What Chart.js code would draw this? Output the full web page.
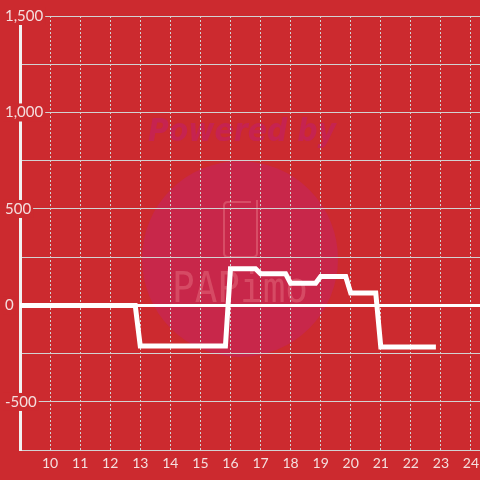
<!DOCTYPE html>
<html>
<head>
<meta charset="utf-8">
<script src="https://cdn.jsdelivr.net/npm/chart.js@4/dist/chart.umd.min.js"></script>
<style>
  html, body { margin: 0; padding: 0; background: #cc2a2f; }
  #c { display: block; }
</style>
</head>
<body>
<canvas id="c" width="480" height="480"></canvas>
<script>
// Time of day (hours) and values
const times  = [9.0, 12.833, 13.0, 15.833, 16.0, 16.833, 17.0, 17.833, 18.0, 18.833, 19.0, 19.833, 20.0, 20.833, 21.0, 22.833];
const values = [0,   0,      -210, -210,   190,  190,    165,  165,    115,  115,    150,  150,    65,   65,     -215, -215];
const xTicks = [10, 11, 12, 13, 14, 15, 16, 17, 18, 19, 20, 21, 22, 23, 24];
const yLabels = [-500, 0, 500, 1000, 1500];

const BG = '#cc2a2f';
const GRID = '#d2d2d2';
const TXT = '#f4dede';

const watermark = {
  id: 'watermark',
  beforeDraw(chart) {
    const ctx = chart.ctx;
    ctx.save();
    ctx.fillStyle = BG;
    ctx.fillRect(0, 0, chart.width, chart.height);
    // circle
    ctx.fillStyle = '#c8274a';
    ctx.beginPath();
    ctx.arc(240, 259, 98, 0, Math.PI * 2);
    ctx.fill();
    // Powered by
    ctx.fillStyle = '#c62350';
    ctx.font = 'italic bold 32px "DejaVu Sans"';
    ctx.textAlign = 'center';
    ctx.textBaseline = 'middle';
    ctx.fillText('Powered by', 242, 133, 188);
    // phone icon
    ctx.strokeStyle = 'rgba(228,110,125,0.55)';
    ctx.lineWidth = 2;
    const x0 = 224, y0 = 202, w = 33, h = 55, r = 4;
    ctx.beginPath();
    ctx.moveTo(x0 + r, y0);
    ctx.lineTo(x0 + w - 6, y0);
    ctx.moveTo(x0 + w, y0 - 2);
    ctx.lineTo(x0 + w, y0 + h - r);
    ctx.quadraticCurveTo(x0 + w, y0 + h, x0 + w - r, y0 + h);
    ctx.lineTo(x0 + r, y0 + h);
    ctx.quadraticCurveTo(x0, y0 + h, x0, y0 + h - r);
    ctx.lineTo(x0, y0 + r);
    ctx.quadraticCurveTo(x0, y0, x0 + r, y0);
    ctx.stroke();
    // PAPimo text
    ctx.fillStyle = 'rgba(228,110,125,0.5)';
    ctx.font = '42px "DejaVu Sans Mono"';
    ctx.fillText('PAPimo', 240, 291, 136);
    ctx.restore();
  }
};

new Chart(document.getElementById('c'), {
  type: 'line',
  data: {
    datasets: [{
      data: times.map((t, i) => ({ x: t, y: values[i] })),
      borderColor: '#ffffff',
      borderWidth: 5,
      pointRadius: 0,
      tension: 0,
      fill: false
    }]
  },
  plugins: [watermark],
  options: {
    responsive: false,
    animation: false,
    layout: { padding: { left: 5, top: 16, right: 0, bottom: 3 } },
    plugins: { legend: { display: false }, tooltip: { enabled: false } },
    scales: {
      x: {
        type: 'linear',
        min: 9,
        max: 24.3,
        afterBuildTicks(scale) {
          scale.ticks = [9].concat(xTicks).map(v => ({ value: v }));
        },
        afterFit(scale) { scale.paddingLeft = 0; scale.paddingRight = 0; },
        ticks: {
          color: TXT,
          font: { family: 'Lato', size: 14 },
          padding: 5,
          maxRotation: 0,
          autoSkip: false,
          callback: v => (xTicks.includes(v) ? String(v) : '')
        },
        grid: {
          color: GRID,
          lineWidth: 1,
          drawTicks: false
        },
        border: { color: GRID, width: 1, dash: [2, 2] }
      },
      y: {
        min: -750,
        max: 1500,
        afterFit(scale) { scale.width = 15; },
        ticks: {
          stepSize: 250,
          color: TXT,
          font: { family: 'Lato', size: 15 },
          mirror: true,
          crossAlign: 'near',
          padding: -15,
          z: 1,
          showLabelBackdrop: c => yLabels.includes(c.tick.value),
          backdropColor: BG,
          backdropPadding: { left: 2, right: 2, top: 0, bottom: 0 },
          callback: v => (yLabels.includes(v) ? v.toLocaleString('en-US') : '')
        },
        grid: {
          color: c => (c.tick && c.tick.value === 0 ? '#ffffff' : GRID),
          lineWidth: c => (c.tick && c.tick.value === 0 ? 3 : 1),
          drawTicks: false
        },
        border: { color: '#f2f2f2', width: 3 }
      }
    }
  }
});
</script>
</body>
</html>
